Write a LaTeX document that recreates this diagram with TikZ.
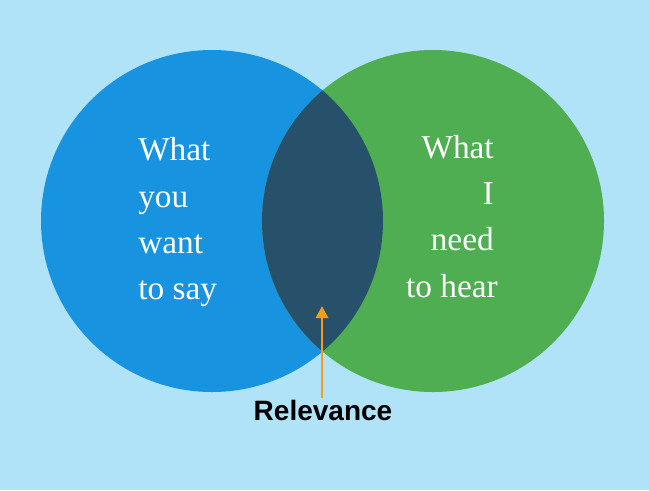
\documentclass[tikz,border=0pt]{standalone}
\usepackage{fontspec}
\setmainfont{Liberation Serif}
\newfontfamily\lab{Liberation Sans}
\usetikzlibrary{arrows.meta}
\definecolor{bg}{HTML}{B0E2F8}
\definecolor{cl}{HTML}{1793E0}
\definecolor{cr}{HTML}{4FAE52}
\definecolor{cmid}{HTML}{27506A}
\definecolor{orng}{HTML}{F39C1E}
\begin{document}
\begin{tikzpicture}[x=0.75pt,y=-0.75pt,
  t/.style={text=white,font=\fontsize{25}{30}\selectfont,inner sep=0pt}]
\fill[bg] (0,0) rectangle (649,490);
\useasboundingbox (0,0) rectangle (649,490);
\fill[cl] (212,221) circle[radius=128.25pt];
\fill[cr] (433,221) circle[radius=128.25pt];
\begin{scope}
\clip (212,221) circle[radius=128.25pt];
\fill[cmid] (433,221) circle[radius=128.25pt];
\end{scope}
\node[t,anchor=base west] (l1) at (138,160) {What};
\node[t,anchor=base west] (l2) at (138,207) {you};
\node[t,anchor=base west] (l3) at (138,253) {want};
\node[t,anchor=base west] (l4) at (138,299) {to say};
\node[t,anchor=base east] (r1) at (494,158) {What};
\node[t,anchor=base east] (r2) at (494,204) {I};
\node[t,anchor=base east] (r3) at (494,250) {need};
\node[t,anchor=base east] (r4) at (498,297) {to hear};
\node[font=\lab\bfseries\fontsize{21}{25}\selectfont,inner sep=1pt] (rel) at (323,410) {Relevance};
\coordinate (tip) at (322,306);
\draw[orng,line width=2.2pt,-{Triangle[length=9pt,width=9pt]}] (rel.north-|tip) -- (tip);
\end{tikzpicture}
\end{document}
